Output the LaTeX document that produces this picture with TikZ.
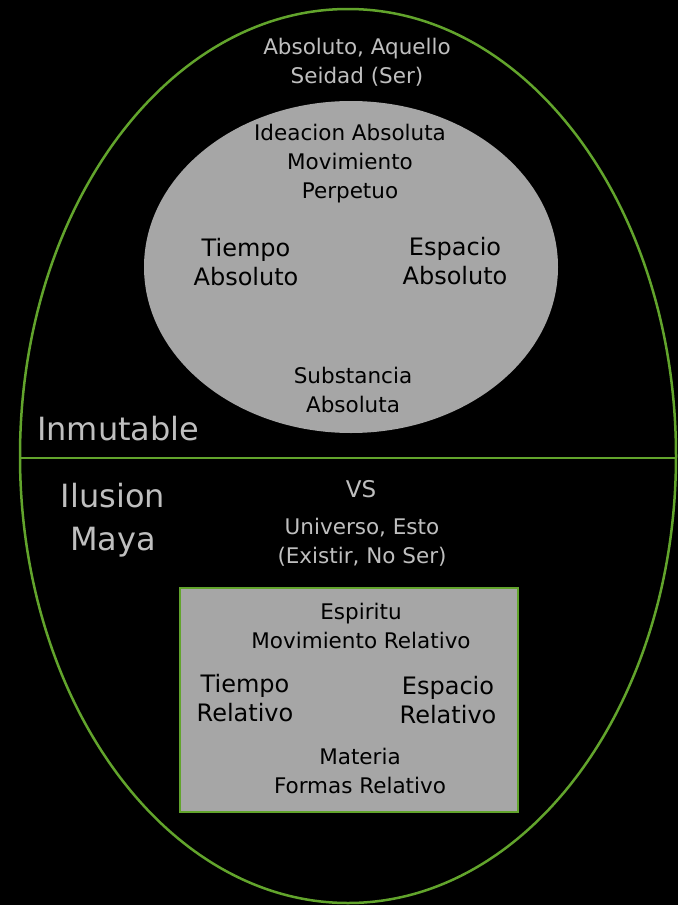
\documentclass[tikz,border=0pt]{standalone}
\usepackage{fontspec}
\setmainfont{DejaVu Sans}
\usepackage{tikz}

\definecolor{lineGreen}{RGB}{98,164,44}
\definecolor{panelGray}{RGB}{166,166,166}
\definecolor{labelGray}{RGB}{191,191,191}

\begin{document}
\begin{tikzpicture}[x=1pt, y=-1pt,
  every node/.style={align=center, anchor=base, inner sep=0pt},
  outertext/.style={text=labelGray, font=\fontsize{21.5}{28.5}\selectfont},
  bigtext/.style={text=labelGray, font=\fontsize{32}{43}\selectfont},
  innertext/.style={text=black, font=\fontsize{21.5}{29}\selectfont},
  widetext/.style={text=black, font=\fontsize{24}{29}\selectfont},
  greenline/.style={draw=lineGreen, line width=2.5pt}]

  % Background
  \fill[black] (0,0) rectangle (678,905);
  \useasboundingbox (0,0) rectangle (678,905);

  % Outer ellipse and divider
  \draw[greenline] (348,456) ellipse [x radius=328pt, y radius=447pt];
  \draw[greenline] (20,458) -- (676,458);

  % Absolute ellipse
  \fill[panelGray] (351,267) ellipse [x radius=207pt, y radius=166pt];

  % Relative box
  \draw[greenline, fill=panelGray] (180,588) rectangle (518,812);

  % Upper half (nodes sit on the baseline of their last line)
  \node[outertext] (aquello) at (357,83) {Absoluto, Aquello\\Seidad (Ser)};
  \node[innertext] (ideacion) at (350,198) {Ideacion Absoluta\\Movimiento\\Perpetuo};
  \node[widetext] (tiempoabs) at (246,285) {Tiempo\\Absoluto};
  \node[widetext] (espacioabs) at (455,284) {Espacio\\Absoluto};
  \node[innertext] (substancia) at (353,412) {Substancia\\Absoluta};
  \node[bigtext, anchor=base west] (inmutable) at (37,440) {Inmutable};

  % Lower half
  \node[bigtext] (ilusion) at (113,550) {Ilusion\\Maya};
  \node[outertext, font=\fontsize{23}{28}\selectfont] (vs) at (361,497) {VS};
  \node[outertext] (universo) at (362,563) {Universo, Esto\\(Existir, No Ser)};

  % Relative box text
  \node[innertext] (espiritu) at (361,648) {Espiritu\\Movimiento Relativo};
  \node[widetext] (tiemporel) at (245,721) {Tiempo\\Relativo};
  \node[widetext] (espaciorel) at (448,723) {Espacio\\Relativo};
  \node[innertext] (materia) at (360,793) {Materia\\Formas Relativo};
\end{tikzpicture}
\end{document}
